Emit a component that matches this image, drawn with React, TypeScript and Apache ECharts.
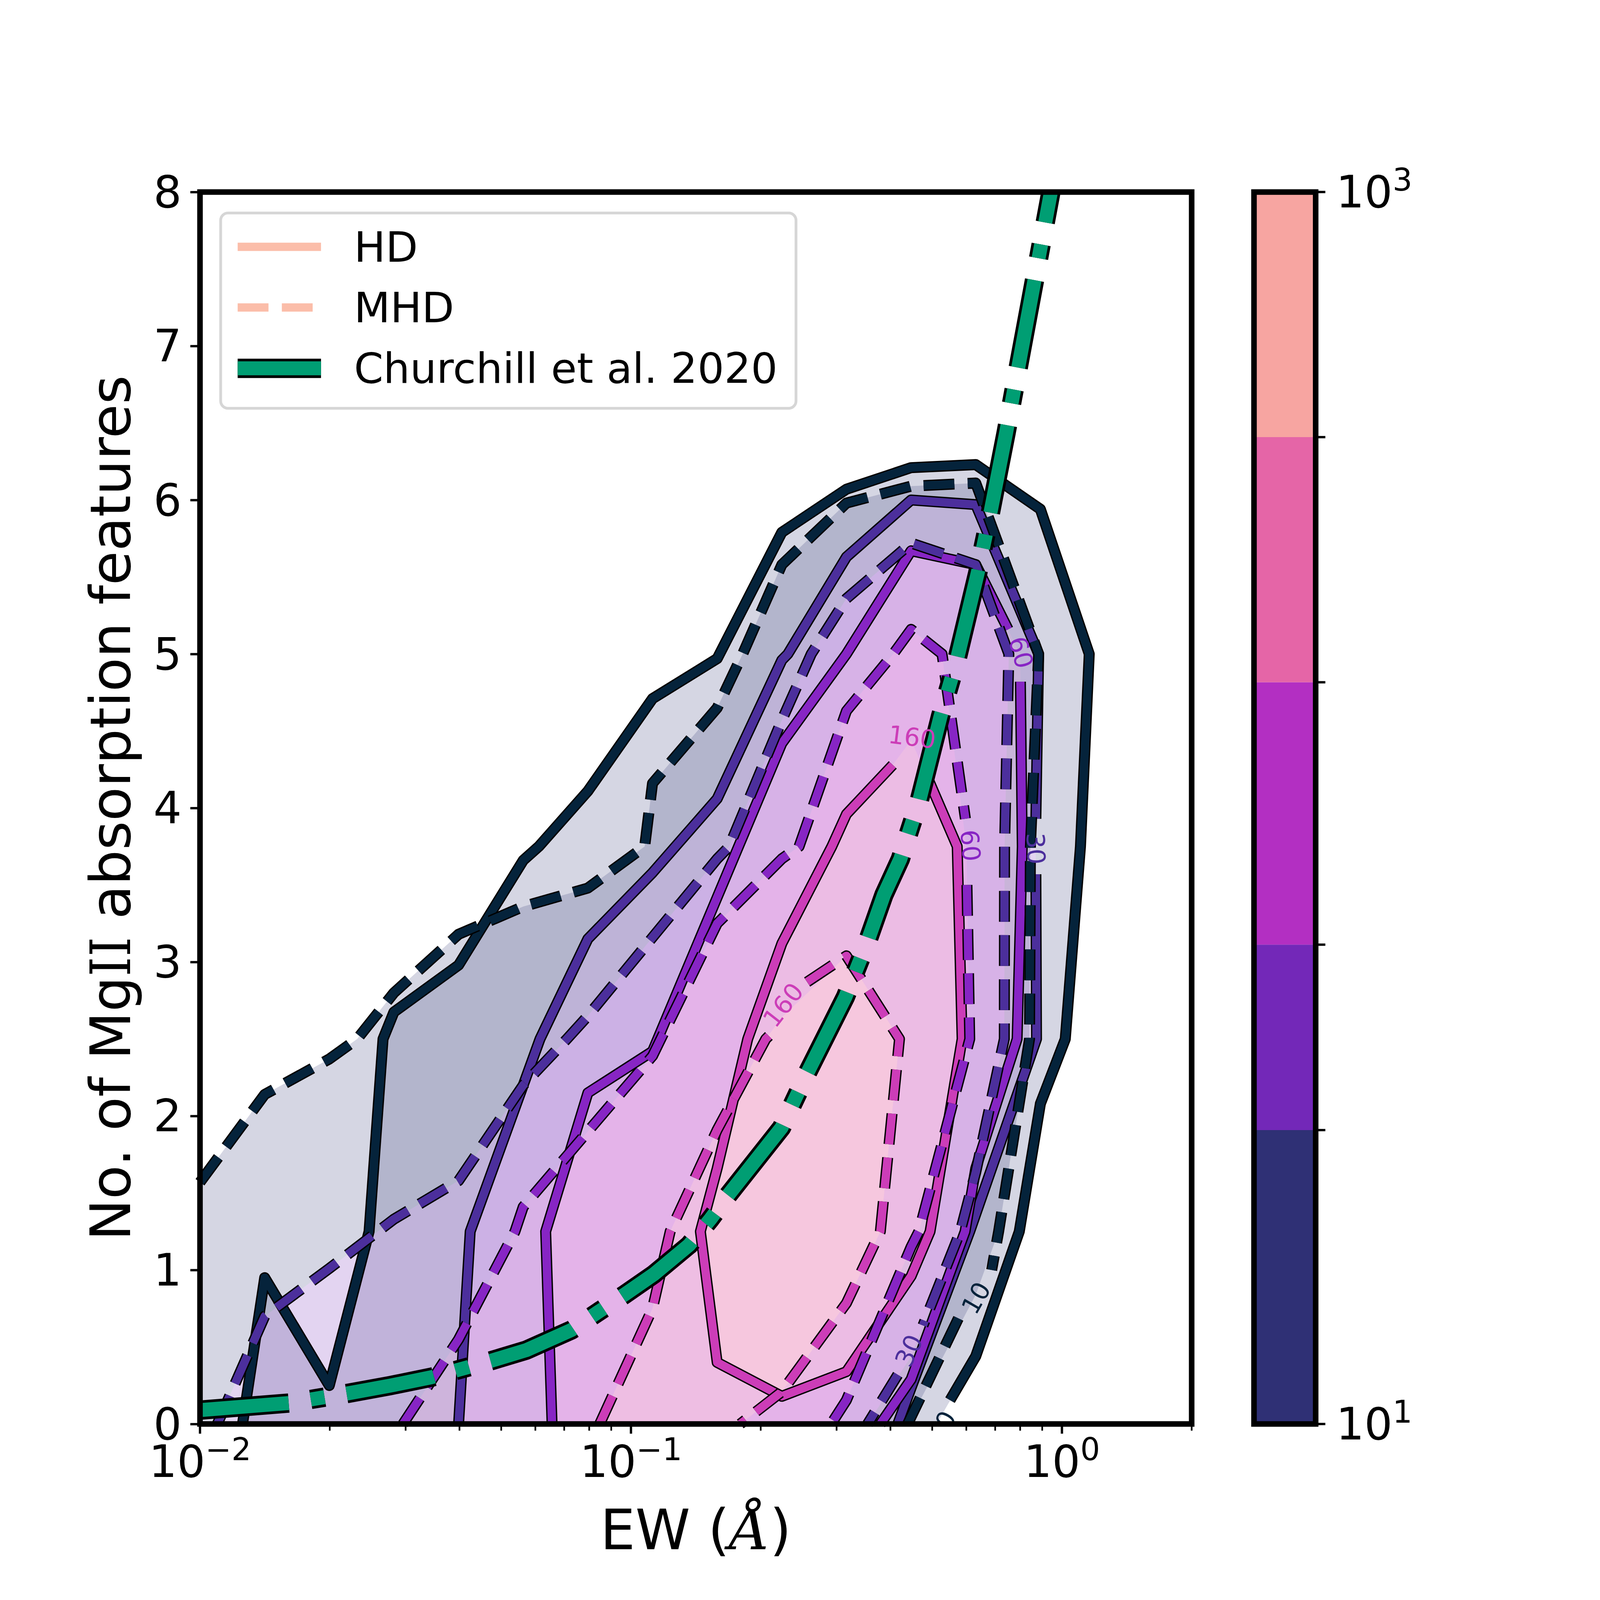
import React, { useEffect, useRef } from "react";
import * as echarts from "echarts";

type P = number[];

// Contour vertices: [EW, number of features]
const hd10: P[] = [[0.01255,0],[0.01413,0.95],[0.01995,0.25],[0.02468,1.25],[0.02659,2.5],[0.02818,2.675],[0.03981,2.98],[0.05623,3.66],[0.0611,3.75],[0.07943,4.11],[0.1122,4.71],[0.1585,4.97],[0.2239,5.79],[0.3162,6.07],[0.4467,6.21],[0.631,6.23],[0.8913,5.94],[1.157,5],[1.104,3.75],[1.018,2.5],[0.8913,2.08],[0.7962,1.25],[0.631,0.44],[0.5117,0]];
const hd30: P[] = [[0.03981,0],[0.04236,1.25],[0.0615,2.5],[0.07943,3.15],[0.1122,3.58],[0.1585,4.06],[0.2239,4.96],[0.2312,5],[0.3162,5.63],[0.4467,6.0],[0.631,5.97],[0.883,5],[0.869,3.75],[0.873,2.5],[0.611,1.25],[0.4467,0.235],[0.416,0]];
const hd60: P[] = [[0.0656,0],[0.0634,1.25],[0.07943,2.15],[0.1122,2.42],[0.1585,3.42],[0.2239,4.42],[0.3162,5],[0.4467,5.67],[0.631,5.58],[0.8,5],[0.809,3.75],[0.787,2.5],[0.631,1.66],[0.596,1.25],[0.4467,0.29],[0.379,0]];
const hd160: P[] = [[0.4467,4.44],[0.405,4.28],[0.3162,3.96],[0.2924,3.75],[0.2239,3.12],[0.1866,2.5],[0.1585,1.66],[0.1449,1.25],[0.1585,0.4],[0.2239,0.18],[0.3162,0.34],[0.4467,0.96],[0.4943,1.25],[0.5866,2.5],[0.5715,3.75],[0.482,4.23]];
const mhd10: P[] = [[0.01,1.57],[0.01413,2.14],[0.01995,2.37],[0.02316,2.5],[0.02818,2.8],[0.03981,3.18],[0.05623,3.36],[0.07943,3.48],[0.1076,3.75],[0.1122,4.16],[0.1585,4.65],[0.1816,5],[0.2239,5.58],[0.3162,5.98],[0.4467,6.09],[0.631,6.11],[0.883,5],[0.845,3.75],[0.841,2.5],[0.713,1.25],[0.631,0.84],[0.4385,0]];
const mhd30: P[] = [[0.01097,0],[0.01413,0.7],[0.01995,1.01],[0.02818,1.33],[0.03981,1.58],[0.05623,2.2],[0.071,2.5],[0.07943,2.65],[0.1122,3.16],[0.1585,3.67],[0.169,3.75],[0.2239,4.57],[0.262,5],[0.3162,5.36],[0.4467,5.72],[0.631,5.58],[0.753,5],[0.736,3.75],[0.735,2.5],[0.631,1.635],[0.581,1.25],[0.4467,0.44],[0.354,0]];
const mhd60: P[] = [[0.02958,0],[0.03981,0.55],[0.0538,1.25],[0.05623,1.41],[0.07943,1.9],[0.1122,2.39],[0.1585,3.25],[0.2239,3.67],[0.2455,3.75],[0.3162,4.63],[0.406,5],[0.4467,5.16],[0.527,5],[0.6,3.75],[0.611,2.5],[0.4656,1.25],[0.4467,1.15],[0.3162,0.155],[0.2914,0]];
const mhd160: P[] = [[0.0846,0],[0.1122,0.75],[0.1233,1.25],[0.1585,1.91],[0.2055,2.5],[0.2239,2.64],[0.3162,3.04],[0.4198,2.5],[0.379,1.25],[0.3162,0.785],[0.2239,0.21],[0.1793,0]];
const churchill: P[] = [[0.01,0.09],[0.01607,0.136],[0.02204,0.199],[0.02757,0.2485],[0.03447,0.304],[0.04727,0.41],[0.05723,0.48],[0.07272,0.61],[0.08381,0.726],[0.09656,0.84],[0.1131,0.973],[0.1365,1.163],[0.1527,1.329],[0.1675,1.481],[0.2236,1.925],[0.2563,2.277],[0.3145,2.773],[0.3544,3.138],[0.3863,3.436],[0.4217,3.668],[0.4674,4.056],[0.5229,4.597],[0.5706,4.964],[0.6375,5.525],[0.68,5.895],[0.7418,6.434],[0.9428,8]];

const levels = [10, 30, 60, 160, 400, 1000];
const bandColors = ["#2F3075", "#7328B8", "#B32FC2", "#E565A7", "#F7A5A1"];
const lineColors = ["#05233B", "#4C2F9C", "#8725C4", "#CC3DB8"];
const yTicks = [0, 8];
const xMinorTicks = [0.02,0.03,0.04,0.05,0.06,0.07,0.08,0.09,0.2,0.3,0.4,0.5,0.6,0.7,0.8,0.9,2];
const xMajorTicks = [0.01, 0.1, 1];
const legendLabels = ["HD", "MHD", "Churchill et al. 2020"];
const legendColor = "#FBBDA9";
const churchillColor = "#009E73";

const contourLabels = [
  { text: "160", ew: 0.4492, n: 4.46, deg: -7, color: lineColors[3] },
  { text: "160", ew: 0.2257, n: 2.72, deg: 52, color: lineColors[3] },
  { text: "60", ew: 0.803, n: 5.01, deg: -75, color: lineColors[2] },
  { text: "60", ew: 0.6128, n: 3.756, deg: -85, color: lineColors[2] },
  { text: "30", ew: 0.8689, n: 3.736, deg: -88, color: lineColors[1] },
  { text: "30", ew: 0.4419, n: 0.476, deg: 65, color: lineColors[1] },
  { text: "10", ew: 0.6326, n: 0.818, deg: 60, color: lineColors[0] },
  { text: "10", ew: 0.5262, n: -0.02, deg: 60, color: lineColors[0] },
];

// A line is broken where its label sits
function split(points: P[], from: number, to: number | null, a: P, b: P | null): P[][] {
  const first = [...points.slice(0, from + 1), a];
  return to === null || !b ? [first] : [first, [b, ...points.slice(to)]];
}
const rev = (p: P[]) => [...p].reverse();

const FONT = "DejaVu Sans";
const LW = 25;
const OUT = 33;
const DASH = [92.5, 40];

function hd160Hole(): P[] {
  // keyhole cut from the x axis to the closed 160 contour
  const start = 9;
  const loop = [...hd160.slice(start), ...hd160.slice(0, start + 1)];
  return [[hd160[start][0], 0], ...loop, [hd160[start][0], 0]];
}

const fillBands = [
  { points: [...hd10, ...rev(hd30)], color: bandColors[0] },
  { points: [...hd30, ...rev(hd60)], color: bandColors[1] },
  { points: [...hd60, ...hd160Hole()], color: bandColors[2] },
  { points: hd160, color: bandColors[3] },
  { points: [[0.01, 0], ...mhd10, ...rev(mhd30)], color: bandColors[0] },
  { points: [...mhd30, ...rev(mhd60)], color: bandColors[1] },
  { points: [...mhd60, ...rev(mhd160)], color: bandColors[2] },
  { points: mhd160, color: bandColors[3] },
];

const lineGroups: { segs: P[][]; color: string; dashed: boolean }[] = [
  { segs: split(hd10, 22, null, [0.55, 0.155], null), color: lineColors[0], dashed: false },
  { segs: split(hd30, 11, 13, [0.87, 3.93], [0.87, 3.57]), color: lineColors[1], dashed: false },
  { segs: split(hd60, 8, 10, [0.75, 5.16], [0.801, 4.82]), color: lineColors[2], dashed: false },
  { segs: [hd160.slice(1)], color: lineColors[3], dashed: false },
  { segs: split(mhd10, 19, 21, [0.687, 1.0], [0.575, 0.686]), color: lineColors[0], dashed: true },
  { segs: split(mhd30, 20, 22, [0.476, 0.64], [0.416, 0.32]), color: lineColors[1], dashed: true },
  { segs: split(mhd60, 12, 14, [0.597, 3.93], [0.602, 3.5]), color: lineColors[2], dashed: true },
  { segs: split(mhd160, 4, 6, [0.2089, 2.52], [0.2563, 2.87]), color: lineColors[3], dashed: true },
];

function lineSeries(data: P[], color: string, width: number, type: any) {
  return {
    type: "line", data, xAxisIndex: 0, yAxisIndex: 0, showSymbol: false, symbol: "none", silent: true, z: 3,
    lineStyle: { color, width, type, cap: "butt", join: "round", opacity: 1 },
  };
}

function tickSeries(data: number[][], xIdx: number, yIdx: number, vertical: boolean) {
  return {
    type: "custom", xAxisIndex: xIdx, yAxisIndex: yIdx, clip: false, silent: true, z: 4,
    encode: { x: 0, y: 1 }, data,
    renderItem: (_: any, api: any) => {
      const [x, y] = api.coord([api.value(0), api.value(1)]);
      const len = api.value(2);
      return {
        type: "line",
        shape: vertical ? { x1: x, y1: y, x2: x, y2: y + len } : { x1: x, y1: y, x2: x + len, y2: y },
        style: { stroke: "#000", lineWidth: api.value(3) },
      };
    },
  };
}

const sup = { b: { fontSize: 133.3, fontFamily: FONT, color: "#000" }, s: { fontSize: 93.3, fontFamily: FONT, color: "#000", padding: [0, 0, 72, 0] } };
const expLabel = (v: number) => {
  const e = Math.log10(v);
  if (Math.abs(e - Math.round(e)) > 1e-6) return "";
  return `{b|10}{s|${String(Math.round(e)).replace("-", "\u2212")}}`;
};

export default function App() {
  const ref = useRef<HTMLDivElement>(null);
  const scale = Math.min(1, window.innerWidth / 4800);
  useEffect(() => {
    const chart = echarts.init(ref.current!, null, { renderer: "svg", width: 4800, height: 4800 });
    const series: any[] = [
      {
        type: "custom", xAxisIndex: 0, yAxisIndex: 0, clip: true, silent: true, z: 2, encode: { x: 0, y: 1 },
        data: fillBands.map((b, i) => [b.points[0][0], b.points[0][1], i]),
        renderItem: (_: any, api: any) => {
          const b = fillBands[api.value(2)];
          return { type: "polygon", shape: { points: b.points.map((p) => api.coord(p)) }, style: { fill: b.color, opacity: 0.2 } };
        },
      },
    ];
    lineGroups.forEach((g) => {
      g.segs.forEach((s) => {
        series.push(lineSeries(s, "#000", OUT, g.dashed ? DASH : "solid"));
        series.push(lineSeries(s, g.color, LW, g.dashed ? DASH : "solid"));
      });
    });
    series.push(lineSeries(churchill, "#000", 58, [267, 67, 42, 67]));
    series.push(lineSeries(churchill, churchillColor, 42, [267, 67, 42, 67]));
    series.push({
      type: "custom", xAxisIndex: 0, yAxisIndex: 0, clip: true, silent: true, z: 5, encode: { x: 0, y: 1 },
      data: contourLabels.map((l, i) => [l.ew, l.n, i]),
      renderItem: (_: any, api: any) => {
        const l = contourLabels[api.value(2)];
        const [x, y] = api.coord([l.ew, l.n]);
        return {
          type: "text", x, y, rotation: (l.deg * Math.PI) / 180,
          style: { text: l.text, align: "center", verticalAlign: "middle", fontSize: 75, fontFamily: FONT, fill: l.color },
        };
      },
    });
    series.push(tickSeries(xMajorTicks.map((v) => [v, 0, 29, 7]), 0, 0, true));
    series.push(tickSeries(xMinorTicks.map((v) => [v, 0, 20, 5]), 0, 0, true));
    // colour bar
    series.push({
      type: "custom", xAxisIndex: 1, yAxisIndex: 1, clip: true, silent: true, z: 2, encode: { x: 0, y: 1 },
      data: bandColors.map((_, i) => [0, levels[i], levels[i + 1], i]),
      renderItem: (_: any, api: any) => {
        const a = api.coord([0, api.value(1)]);
        const b = api.coord([1, api.value(2)]);
        return { type: "rect", shape: { x: a[0], y: b[1], width: b[0] - a[0], height: a[1] - b[1] }, style: { fill: bandColors[api.value(3)] } };
      },
    });
    series.push(tickSeries(levels.map((v) => [1, v, 29, 7]), 1, 1, false));

    chart.setOption({
      animation: false,
      backgroundColor: "#fff",
      grid: [
        { left: 600, top: 576, width: 2975, height: 3696, show: true, borderColor: "#000", borderWidth: 16.7, backgroundColor: "transparent", z: 10 },
        { left: 3762, top: 576, width: 185, height: 3696, show: true, borderColor: "#000", borderWidth: 16.7, backgroundColor: "transparent", z: 10 },
      ],
      xAxis: [
        {
          gridIndex: 0, type: "log", logBase: 10, min: 0.01, max: 2,
          axisLine: { show: false }, axisTick: { show: false }, splitLine: { show: false }, minorTick: { show: false },
          axisLabel: { margin: 30, formatter: expLabel, rich: sup },
          name: "{a|EW (}{i|\u00c5}{a|)}", nameLocation: "middle", nameGap: 235,
          nameTextStyle: { rich: { a: { fontSize: 166.7, fontFamily: FONT, color: "#000" }, i: { fontSize: 166.7, fontFamily: "DejaVu Serif", fontStyle: "italic", color: "#000" } } },
        },
        { gridIndex: 1, type: "value", min: 0, max: 1, show: false },
      ],
      yAxis: [
        {
          gridIndex: 0, type: "value", min: yTicks[0], max: yTicks[1], interval: 1,
          axisLine: { show: false }, axisTick: { show: true, length: 29, lineStyle: { width: 7, color: "#000" } }, splitLine: { show: false },
          axisLabel: { margin: 55, fontSize: 133.3, fontFamily: FONT, color: "#000" },
          name: "{a|No. of Mg}{r|II}{a| absorption features}", nameLocation: "middle", nameGap: 184,
          nameTextStyle: {
            rich: {
              a: { fontSize: 166.7, fontFamily: FONT, color: "#000" },
              r: { fontSize: 166.7, fontFamily: "DejaVu Serif Condensed, DejaVu Serif", color: "#000" },
            },
          },
        },
        {
          gridIndex: 1, type: "log", logBase: 10, min: 10, max: 1000, position: "right",
          axisLine: { show: false }, axisTick: { show: false }, splitLine: { show: false }, minorTick: { show: false },
          axisLabel: { margin: 61, formatter: (v: number) => (Math.abs(v - 100) < 1 ? "" : expLabel(v)), rich: sup },
        },
      ],
      series,
      graphic: [
        { type: "rect", z: 20, shape: { x: 662, y: 639, width: 1726, height: 586, r: 22 }, style: { fill: "rgba(255,255,255,0.8)", stroke: "#D6D6D6", lineWidth: 8.3 } },
        { type: "line", z: 21, shape: { x1: 713, y1: 740.5, x2: 963, y2: 740.5 }, style: { stroke: legendColor, lineWidth: 25 } },
        { type: "line", z: 21, shape: { x1: 713, y1: 922.5, x2: 963, y2: 922.5 }, style: { stroke: legendColor, lineWidth: 25, lineDash: DASH } },
        { type: "line", z: 21, shape: { x1: 713, y1: 1105, x2: 963, y2: 1105 }, style: { stroke: "#000", lineWidth: 58 } },
        { type: "line", z: 21, shape: { x1: 713, y1: 1105, x2: 963, y2: 1105 }, style: { stroke: churchillColor, lineWidth: 42 } },
        ...legendLabels.map((t, i) => ({
          type: "text", z: 21, x: 1062, y: [741, 923, 1105][i],
          style: { text: t, fontSize: 126, fontFamily: FONT, fill: "#000", align: "left", verticalAlign: "middle" },
        })),
      ],
    });
    return () => chart.dispose();
  }, []);
  return <div ref={ref} style={{ position: "absolute", left: 0, top: 0, width: 4800, height: 4800, transform: `scale(${scale})`, transformOrigin: "0 0" }} />;
}
